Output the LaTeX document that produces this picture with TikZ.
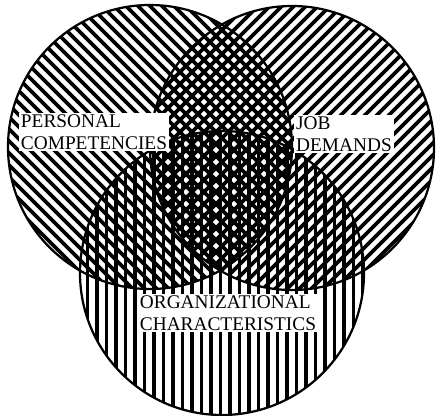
\documentclass[tikz,border=0pt]{standalone}
\usepackage{fontspec}
\setmainfont{Liberation Serif}
\usetikzlibrary{positioning}

\begin{document}
\begin{tikzpicture}[
      x=0.03cm, y=-0.03cm,
      set/.style={circle, minimum size=8.52cm, inner sep=0pt},
      rim/.style={line width=1.9pt},
      hatch/.style={line width=3.3pt},
      tag/.style={fill=white, align=left, inner xsep=2pt, inner ysep=1pt,
        font=\fontsize{16.5}{19}\selectfont}
    ]
      \useasboundingbox (0,0) rectangle (437,416);

      % the three sets
      \node[set] (pers) at (150,147) {};
      \node[set] (job) at (292,148) {};
      \node[set] (org) at (222,273) {};

      % hatching, one direction per set
      \begin{scope}
        \clip (pers.center) circle [radius=4.26cm];
        \foreach \c in {-300,-288,...,300}
          \draw[hatch] (\c,0) -- ++(420,420);
      \end{scope}
      \begin{scope}
        \clip (job.center) circle [radius=4.26cm];
        \foreach \c in {120,132,...,760}
          \draw[hatch] (\c,0) -- ++(-440,440);
      \end{scope}
      \begin{scope}
        \clip (org.center) circle [radius=4.26cm];
        \foreach \c in {78,87.5,...,370}
          \draw[hatch, line width=3pt] (\c,120) -- (\c,420);
      \end{scope}

      \foreach \s in {pers, job, org}
        \draw[rim] (\s.center) circle [radius=4.26cm];

      % labels
      \node[tag] (perstag) at (94,132) {PERSONAL\\COMPETENCIES};
      \node[tag] (jobtag) at (344,134) {JOB\\DEMANDS};
      \node[tag] (orgtag) at (228,313) {ORGANIZATIONAL\\CHARACTERISTICS};
    \end{tikzpicture}
\end{document}
